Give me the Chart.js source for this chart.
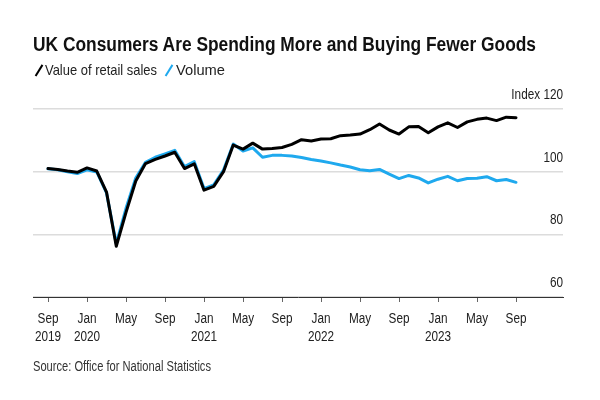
<!DOCTYPE html>
<html>
<head>
<meta charset="utf-8">
<script src="https://cdn.jsdelivr.net/npm/chart.js@4"></script>
<style>
  html, body { margin: 0; padding: 0; background: #fff; }
  #wrap { position: relative; width: 600px; height: 400px; overflow: hidden;
          font-family: "Liberation Sans Narrow", "Arial Narrow", "Liberation Sans", Arial, sans-serif; }
  .txt { position: absolute; white-space: nowrap; transform-origin: left center; }
  #title { left: 33px; top: 32px; font-size: 20px; font-weight: bold; color: #111; line-height: 24px; }
  .leg { top: 60px; font-size: 15px; color: #222; line-height: 20px; }
  .sw { position: absolute; top: 64px; width: 2.4px; height: 13px; transform: rotate(32deg); }
  #source { left: 33px; top: 357px; font-size: 14px; color: #333; line-height: 18px; }
  canvas { position: absolute; left: 0; top: 0; }
</style>
</head>
<body>
<div id="wrap">
  <canvas id="c" width="600" height="400"></canvas>
  <div id="title" class="txt">UK Consumers Are Spending More and Buying Fewer Goods</div>
  <span class="sw" style="left:38px; background:#000"></span>
  <div id="leg1" class="txt leg" style="left:45px">Value of retail sales</div>
  <span class="sw" style="left:168px; background:#1fa9ee"></span>
  <div id="leg2" class="txt leg" style="left:176px">Volume</div>
  <div id="source" class="txt">Source: Office for National Statistics</div>
</div>
<script>
// Monthly, Sep 2019 .. Sep 2023
const months = [
  'Sep 2019','Oct 2019','Nov 2019','Dec 2019',
  'Jan 2020','Feb 2020','Mar 2020','Apr 2020','May 2020','Jun 2020','Jul 2020','Aug 2020','Sep 2020','Oct 2020','Nov 2020','Dec 2020',
  'Jan 2021','Feb 2021','Mar 2021','Apr 2021','May 2021','Jun 2021','Jul 2021','Aug 2021','Sep 2021','Oct 2021','Nov 2021','Dec 2021',
  'Jan 2022','Feb 2022','Mar 2022','Apr 2022','May 2022','Jun 2022','Jul 2022','Aug 2022','Sep 2022','Oct 2022','Nov 2022','Dec 2022',
  'Jan 2023','Feb 2023','Mar 2023','Apr 2023','May 2023','Jun 2023','Jul 2023','Aug 2023','Sep 2023'
];
const valueOfSales = [
  101.0, 100.7, 100.2, 99.8,
  101.2, 100.2, 93.5, 76.2, 87.0, 97.0, 102.6, 103.9, 105.0, 106.2, 101.0, 102.5,
  94.1, 95.3, 100.0, 108.5, 107.2, 109.1, 107.2, 107.4, 107.7, 108.7, 110.2, 109.8,
  110.4, 110.5, 111.5, 111.7, 112.0, 113.4, 115.2, 113.3, 112.0, 114.3, 114.4, 112.4,
  114.3, 115.6, 114.1, 115.9, 116.7, 117.1, 116.3, 117.4, 117.2
];
const volume = [
  100.9, 100.6, 100.0, 99.4,
  100.6, 99.9, 93.2, 77.0, 88.3, 98.0, 103.0, 104.6, 105.7, 106.8, 101.6, 103.2,
  94.6, 95.8, 100.5, 108.8, 106.6, 107.6, 104.6, 105.2, 105.2, 105.0, 104.5, 103.9,
  103.4, 102.8, 102.1, 101.5, 100.6, 100.3, 100.7, 99.2, 97.8, 98.8, 98.0, 96.4,
  97.6, 98.5, 97.1, 97.8, 97.9, 98.4, 97.1, 97.5, 96.6
];
const xTickIndex = [0, 4, 8, 12, 16, 20, 24, 28, 32, 36, 40, 44, 48];
const xTickLabels = [
  ['Sep','2019'], ['Jan','2020'], ['May',''], ['Sep',''], ['Jan','2021'], ['May',''], ['Sep',''],
  ['Jan','2022'], ['May',''], ['Sep',''], ['Jan','2023'], ['May',''], ['Sep','']
];
const yTicks = [60, 80, 100, 120];

const FONT = '"Liberation Sans Narrow", "Arial Narrow", "Liberation Sans", Arial, sans-serif';

// Condense HTML text to the narrow proportions of the original typeface
function fitWidth(id, w) {
  const el = document.getElementById(id);
  const cur = el.getBoundingClientRect().width;
  if (cur > 0) el.style.transform = 'scaleX(' + (w / cur) + ')';
}
fitWidth('title', 503);
fitWidth('leg1', 112);
fitWidth('leg2', 49);
fitWidth('source', 178);

// Condensed canvas text (narrow face not installed)
const canvas = document.getElementById('c');
const ctx = canvas.getContext('2d');
const origFillText = ctx.fillText.bind(ctx);
ctx.fillText = function (t, x, y, mw) {
  this.save();
  this.translate(x, y);
  this.scale(0.84, 1);
  if (mw === undefined) origFillText(t, 0, 0); else origFillText(t, 0, 0, mw);
  this.restore();
};

new Chart(canvas, {
  type: 'line',
  data: {
    datasets: [
      { label: 'Value of retail sales', data: valueOfSales.map((v, i) => ({ x: i, y: v })),
        borderColor: '#000', borderWidth: 3, pointRadius: 0, tension: 0, borderJoinStyle: 'round', borderCapStyle: 'round' },
      { label: 'Volume', data: volume.map((v, i) => ({ x: i, y: v })),
        borderColor: '#1fa9ee', borderWidth: 3, pointRadius: 0, tension: 0, borderJoinStyle: 'round', borderCapStyle: 'round' }
    ]
  },
  options: {
    responsive: false,
    animation: false,
    events: [],
    layout: { padding: { left: 33, right: 37, top: 109, bottom: 43 } },
    plugins: { legend: { display: false }, tooltip: { enabled: false }, title: { display: false } },
    scales: {
      x: {
        type: 'linear',
        min: -1.54, max: 52.82,
        afterBuildTicks: axis => { axis.ticks = xTickIndex.map(v => ({ value: v })); },
        afterFit: axis => { axis.height = 60; },
        border: { display: true, color: '#333', width: 1 },
        grid: { display: true, drawOnChartArea: false, drawTicks: true, tickLength: 5, tickColor: '#666' },
        ticks: {
          autoSkip: false, maxRotation: 0, padding: 8, color: '#222',
          font: { family: FONT, size: 14, lineHeight: 1.3 },
          callback: v => { const k = xTickIndex.indexOf(v); return k >= 0 ? xTickLabels[k] : ''; }
        }
      },
      y: {
        position: 'right',
        min: 60, max: 120,
        afterBuildTicks: axis => { axis.ticks = yTicks.map(v => ({ value: v })); },
        afterFit: axis => { axis.width = 0; },
        border: { display: false },
        grid: { color: '#dcdcdc', lineWidth: 1.5, drawTicks: false },
        ticks: {
          mirror: true, padding: 0, labelOffset: -14, color: '#222',
          font: { family: FONT, size: 14 },
          callback: v => v === 120 ? 'Index 120' : String(v)
        }
      }
    }
  }
});
</script>
</body>
</html>
